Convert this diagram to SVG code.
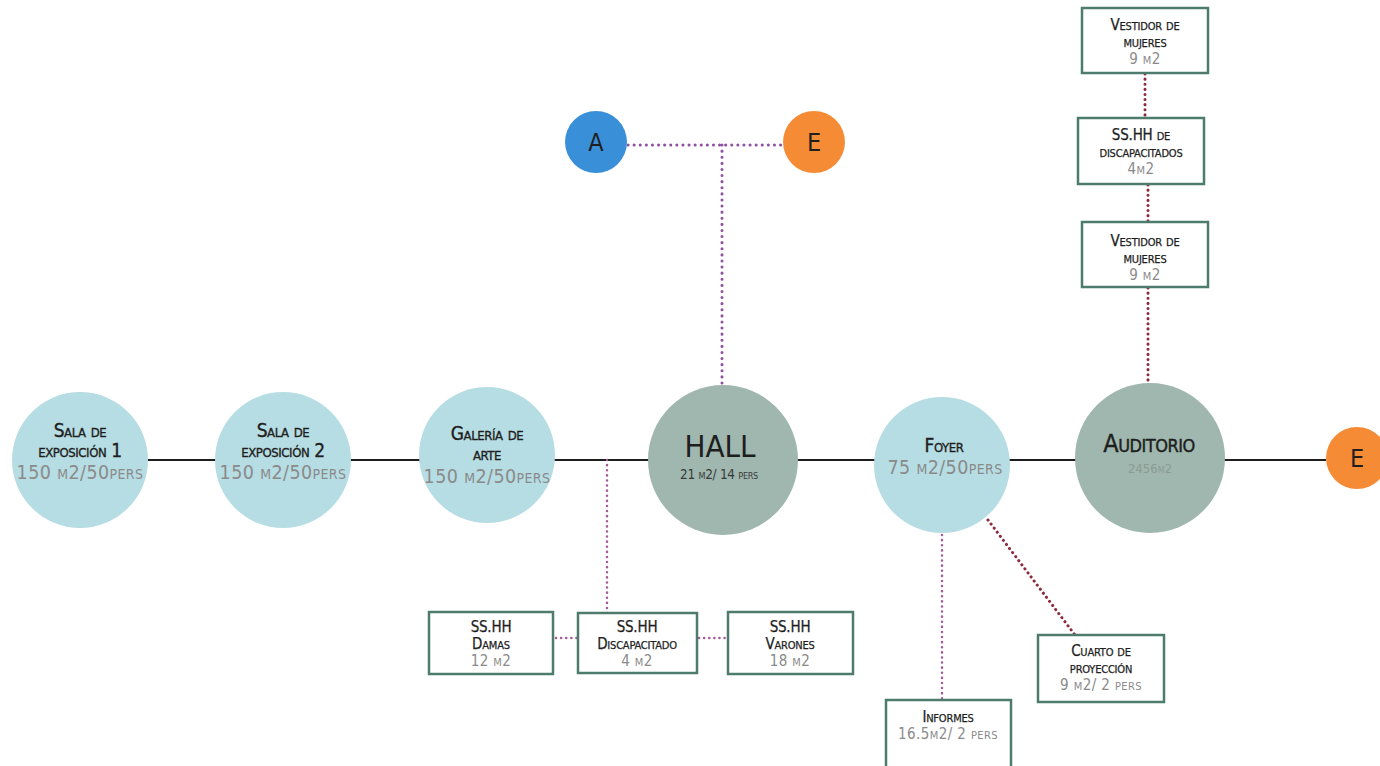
<svg xmlns="http://www.w3.org/2000/svg" width="1380" height="766" viewBox="0 0 1380 766">
<style>
text{font-family:"DejaVu Sans Condensed","DejaVu Sans","Liberation Sans",sans-serif;font-variant:small-caps;text-anchor:middle}
.t{fill:#1e1e1e;stroke:#1e1e1e;stroke-width:0.35;font-size:19px;letter-spacing:-0.4px}
.g{fill:#8a8a8a;font-size:19.5px;letter-spacing:0.4px}
.bt{fill:#1e1e1e;stroke:#1e1e1e;stroke-width:0.25;font-size:15px;letter-spacing:-0.2px}
.bg{fill:#8a8a8a;font-size:15px;letter-spacing:0.4px}
.lc{fill:#b6dde3}
.dc{fill:#9fb7ae}
.box{fill:#fff;stroke:#4d7c6e;stroke-width:2.5}
.solid{stroke:#1e1e1e;stroke-width:2;fill:none}
.dp{stroke:#8e52a0;stroke-width:3;stroke-dasharray:0.1 6;stroke-linecap:round;fill:none}
.dp2{stroke:#a55a9a;stroke-width:2.5;stroke-dasharray:0.1 5;stroke-linecap:round;fill:none}
.dr{stroke:#8b2a3a;stroke-width:3;stroke-dasharray:0.1 5;stroke-linecap:round;fill:none}
.l{fill:#1e1e1e;font-size:25px;font-variant:normal}
</style>
<rect width="1380" height="766" fill="#fff"/>
<g id="connectors">
<line class="solid" x1="148" y1="460" x2="1326" y2="460"/>
<line class="dp" x1="628" y1="145" x2="784" y2="145"/>
<line class="dp" x1="722" y1="145" x2="722" y2="390"/>
<line class="dp2" x1="607" y1="460" x2="607" y2="613"/>
<line class="dp2" x1="556" y1="638" x2="577" y2="638"/>
<line class="dp2" x1="699" y1="638" x2="726" y2="638"/>
<line class="dp2" x1="942" y1="535" x2="942" y2="700"/>
<line class="dr" x1="988" y1="520" x2="1075" y2="635"/>
<line class="dr" x1="1145" y1="74" x2="1145" y2="118"/>
<line class="dr" x1="1148" y1="185" x2="1148" y2="222"/>
<line class="dr" x1="1148" y1="288" x2="1148" y2="386"/>
</g>
<g id="sala1">
<circle class="lc" cx="80" cy="460" r="68"/>
<text class="t" x="80" y="437">Sala de</text>
<text class="t" x="80" y="457">exposición 1</text>
<text class="g" x="80" y="479">150 m2/50pers</text>
</g>
<g id="sala2">
<circle class="lc" cx="283" cy="460" r="68"/>
<text class="t" x="283" y="437">Sala de</text>
<text class="t" x="283" y="457">exposición 2</text>
<text class="g" x="283" y="479">150 m2/50pers</text>
</g>
<g id="galeria">
<circle class="lc" cx="487" cy="455" r="68"/>
<text class="t" x="487" y="440">Galería de</text>
<text class="t" x="487" y="460">arte</text>
<text class="g" x="487" y="483">150 m2/50pers</text>
</g>
<g id="hall">
<circle class="dc" cx="723" cy="460" r="75"/>
<text x="720" y="457" style="fill:#1e1e1e;font-size:31px">HALL</text>
<text x="719" y="479" style="fill:#3a3a3a;font-size:13.5px;letter-spacing:-0.3px">21 m2/ 14 pers</text>
</g>
<g id="foyer">
<circle class="lc" cx="942" cy="465" r="68"/>
<text class="t" x="944" y="452">Foyer</text>
<text class="g" x="945" y="474">75 m2/50pers</text>
</g>
<g id="auditorio">
<circle class="dc" cx="1150" cy="458" r="75"/>
<text x="1149" y="452" style="fill:#1e1e1e;stroke:#1e1e1e;stroke-width:0.4;font-size:25px;letter-spacing:-0.5px">Auditorio</text>
<text x="1150" y="473" style="fill:#8c9a95;font-size:13px">2456m2</text>
</g>
<g id="e-right">
<circle cx="1357" cy="458" r="31" fill="#f68b35"/>
<text class="l" x="1357" y="467">E</text>
</g>
<g id="a-top">
<circle cx="596" cy="142" r="31" fill="#3a8fd9"/>
<text class="l" x="596" y="151">A</text>
</g>
<g id="e-top">
<circle cx="814" cy="142" r="31" fill="#f68b35"/>
<text class="l" x="814" y="151">E</text>
</g>
<g id="damas">
<rect class="box" x="429" y="612" width="124" height="62"/>
<text class="bt" x="491" y="632">SS.HH</text>
<text class="bt" x="491" y="649">Damas</text>
<text class="bg" x="491" y="666">12 m2</text>
</g>
<g id="discapacitado">
<rect class="box" x="578" y="613" width="119" height="60"/>
<text class="bt" x="637" y="632">SS.HH</text>
<text class="bt" x="637" y="649">Discapacitado</text>
<text class="bg" x="637" y="666">4 m2</text>
</g>
<g id="varones">
<rect class="box" x="728" y="612" width="125" height="62"/>
<text class="bt" x="790" y="632">SS.HH</text>
<text class="bt" x="790" y="649">Varones</text>
<text class="bg" x="790" y="666">18 m2</text>
</g>
<g id="informes">
<rect class="box" x="886" y="700" width="125" height="68"/>
<text class="bt" x="948" y="722">Informes</text>
<text class="bg" x="948" y="739">16.5m2/ 2 pers</text>
</g>
<g id="cuarto">
<rect class="box" x="1038" y="635" width="126" height="67"/>
<text class="bt" x="1101" y="656">Cuarto de</text>
<text class="bt" x="1101" y="673">proyección</text>
<text class="bg" x="1101" y="690">9 m2/ 2 pers</text>
</g>
<g id="vestidor1">
<rect class="box" x="1082" y="8" width="126" height="65"/>
<text class="bt" x="1145" y="30">Vestidor de</text>
<text class="bt" x="1145" y="47">mujeres</text>
<text class="bg" x="1145" y="64">9 m2</text>
</g>
<g id="sshh-discap">
<rect class="box" x="1078" y="118" width="126" height="66"/>
<text class="bt" x="1141" y="140">SS.HH de</text>
<text class="bt" x="1141" y="157">discapacitados</text>
<text class="bg" x="1141" y="174">4m2</text>
</g>
<g id="vestidor2">
<rect class="box" x="1082" y="222" width="126" height="65"/>
<text class="bt" x="1145" y="246">Vestidor de</text>
<text class="bt" x="1145" y="263">mujeres</text>
<text class="bg" x="1145" y="280">9 m2</text>
</g>
</svg>
